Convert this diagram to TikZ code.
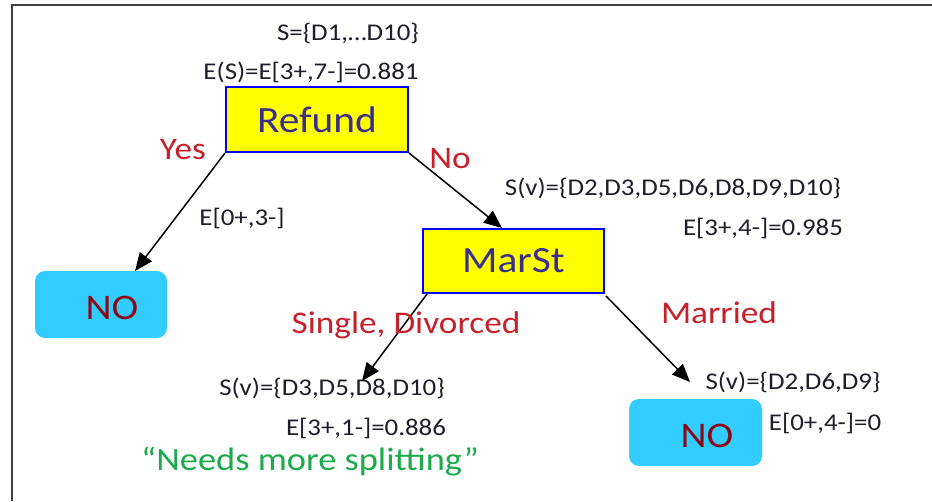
\documentclass[tikz,border=0pt]{standalone}
\usepackage{fontspec}
\setmainfont{Carlito}[FakeStretch=1.12]
\usetikzlibrary{arrows.meta}
\definecolor{framegray}{HTML}{404040}
\definecolor{testyellow}{HTML}{FFFF00}
\definecolor{testblue}{HTML}{0000FF}
\definecolor{testtext}{HTML}{3A2E8C}
\definecolor{leafcyan}{HTML}{33CCFF}
\definecolor{leaftext}{HTML}{8B0A1A}
\definecolor{branchred}{HTML}{C8202A}
\definecolor{notegreen}{HTML}{1CAA4C}
\definecolor{infotext}{HTML}{1E1E2A}
\tikzset{
  testbox/.style={draw=testblue, line width=2pt, fill=testyellow, text=testtext,
    font=\fontsize{37}{42}\selectfont, inner sep=0pt},
  leafbox/.style={fill=leafcyan, rounded corners=10pt, inner sep=0pt},
  leaflabel/.style={text=leaftext, font=\fontsize{36}{40}\selectfont, inner sep=0pt},
  branch/.style={text=branchred, font=\fontsize{31.5}{36}\selectfont, inner sep=0pt},
  info/.style={text=infotext, font=\fontsize{24}{28}\selectfont, inner sep=0pt},
  edge/.style={line width=1.5pt, -{Triangle[length=18pt,width=15pt]}},
}
\begin{document}
\begin{tikzpicture}[x=1pt, y=-1pt]
  \useasboundingbox (0,0) rectangle (932,501);
  % frame edges
  \draw[framegray, line width=2pt] (12,501) -- (12,5) -- (932,5);

  % decision nodes
  \node[testbox, minimum width=182pt, minimum height=65pt] (refund) at (317,119.5) {Refund};
  \node[testbox, minimum width=181pt, minimum height=64pt] (marst) at (513.5,261) {MarSt};

  % leaves
  \node[leafbox, minimum width=132pt, minimum height=67pt] (noA) at (101,304.5) {};
  \node[leaflabel] (noAt) at (112,308) {NO};
  \node[leafbox, minimum width=133pt, minimum height=67pt] (noB) at (695.5,432.5) {};
  \node[leaflabel] (noBt) at (707,436) {NO};

  % arrow targets
  \coordinate (tipA) at (135,271);
  \coordinate (tipB) at (502,228);
  \coordinate (tipC) at (362,381);
  \coordinate (tipD) at (690,382);

  \draw[edge] (refund.south west) -- (tipA);
  \draw[edge] (refund.south east) -- (tipB);
  \draw[edge] ([xshift=5pt]marst.south west) -- (tipC);
  \draw[edge] ([xshift=1pt,yshift=-2pt]marst.south east) -- (tipD);

  % branch labels
  \node[branch] (yes) at (183,150) {Yes};
  \node[branch] (no) at (450,158) {No};
  \node[branch] (single) at (406,325) {Single, Divorced};
  \node[branch] (married) at (719,313) {Married};

  % set and entropy labels
  \node[info] (s0) at (348,33) {S=\{D1,…D10\}};
  \node[info] (e0) at (311,72) {E(S)=E[3+,7-]=0.881};
  \node[info] (e1) at (242,218) {E[0+,3-]};
  \node[info] (s2) at (673,188) {S(v)=\{D2,D3,D5,D6,D8,D9,D10\}};
  \node[info] (e2) at (763,228) {E[3+,4-]=0.985};
  \node[info] (s3) at (332,388) {S(v)=\{D3,D5,D8,D10\}};
  \node[info] (e3) at (366,428) {E[3+,1-]=0.886};
  \node[info] (s4) at (793,382) {S(v)=\{D2,D6,D9\}};
  \node[info] (e4) at (825,423) {E[0+,4-]=0};

  \node[text=notegreen, font=\fontsize{32.5}{36}\selectfont, inner sep=0pt] (note) at (310,462) {“Needs more splitting”};
\end{tikzpicture}
\end{document}
